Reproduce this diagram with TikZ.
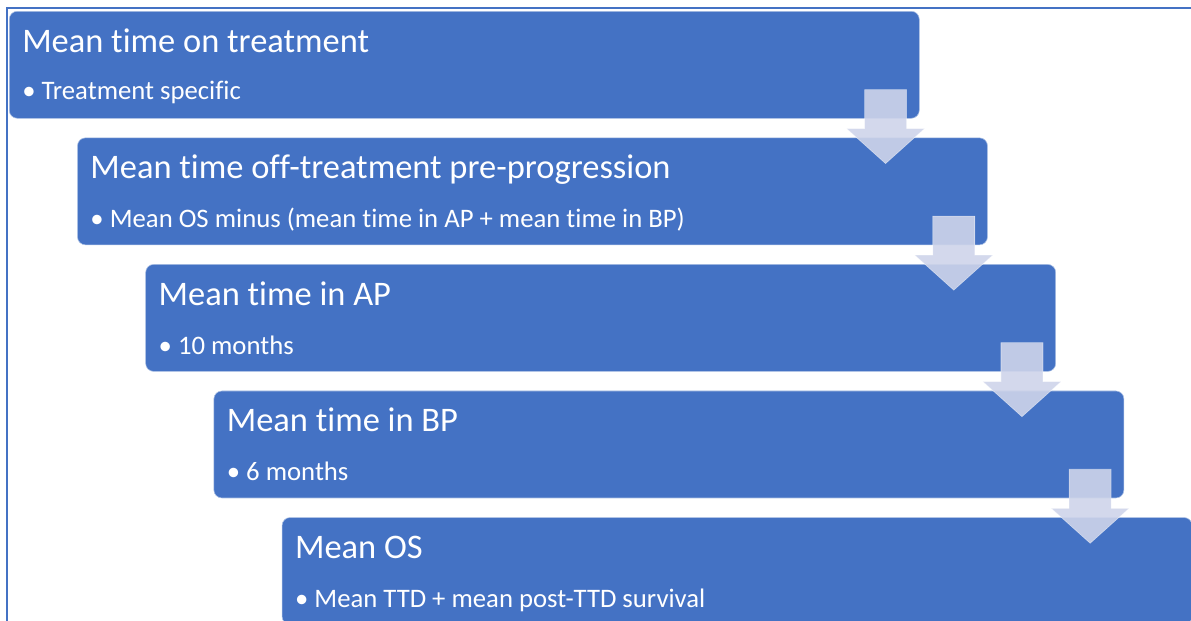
\documentclass[tikz,border=0pt]{standalone}
\usepackage{fontspec}
\setmainfont{Carlito}[Ligatures=NoCommon]
\usetikzlibrary{positioning}
\definecolor{boxblue}{RGB}{68,114,196}
\definecolor{arrowlilac}{RGB}{206,212,234}

\begin{document}
\begin{tikzpicture}[
    box/.style={draw=white!55!boxblue, line width=0.4pt, rounded corners=0.2cm, fill=boxblue, minimum width=22.75cm, minimum height=2.675cm, inner sep=0pt, anchor=north west},
    head/.style={anchor=base west, inner sep=0pt, text=white, font=\fontsize{24.5}{28}\selectfont},
    item/.style={anchor=base west, inner sep=0pt, text=white, font=\fontsize{19}{23}\selectfont},
    blockarrow/.style={fill=arrowlilac, fill opacity=0.9, draw=white, draw opacity=0.5, line width=0.4pt, line join=miter}
]

\clip (0,0) rectangle (29.775,-15.525);

% --- frame ---
\draw[boxblue, line width=1.2pt] (0.175,-15.7) -- (0.175,-0.2) -- (29.9,-0.2);

% --- boxes ---
\node[box] (b1) at (0.225,-0.275) {};
\node[box, below=0.475cm of b1.south west, anchor=north west, xshift=1.705cm] (b2) {};
\node[box, below=0.475cm of b2.south west, anchor=north west, xshift=1.705cm] (b3) {};
\node[box, below=0.475cm of b3.south west, anchor=north west, xshift=1.705cm] (b4) {};
\node[box, below=0.475cm of b4.south west, anchor=north west, xshift=1.705cm] (b5) {};

% --- texts ---
\node[head] (h1) at ([shift={(0.325,-1.025)}]b1.north west) {Mean time on treatment};
\node[item] (p1) at ([shift={(0.325,-2.2)}]b1.north west) {• Treatment specific};

\node[head] (h2) at ([shift={(0.325,-1.025)}]b2.north west) {Mean time off-treatment pre-progression};
\node[item] (p2) at ([shift={(0.325,-2.25)}]b2.north west) {• Mean OS minus (mean time in AP + mean time in BP)};

\node[head] (h3) at ([shift={(0.325,-1.025)}]b3.north west) {Mean time in AP};
\node[item] (p3) at ([shift={(0.325,-2.25)}]b3.north west) {• 10 months};

\node[head] (h4) at ([shift={(0.325,-1.025)}]b4.north west) {Mean time in BP};
\node[item] (p4) at ([shift={(0.325,-2.25)}]b4.north west) {• 6 months};

\node[head] (h5) at ([shift={(0.325,-1.025)}]b5.north west) {Mean OS};
\node[item] (p5) at ([shift={(0.325,-2.25)}]b5.north west) {• Mean TTD + mean post-TTD survival};

% --- block arrows ---
\foreach \src in {b1,b2,b3,b4}
  \draw[blockarrow] ([shift={(-1.375,0.725)}]\src.south east) -- ++(1.05,0) -- ++(0,-0.975) -- ++(0.45,0)
    -- ++(-0.975,-0.875) -- ++(-0.975,0.875) -- ++(0.45,0) -- cycle;

\end{tikzpicture}
\end{document}
